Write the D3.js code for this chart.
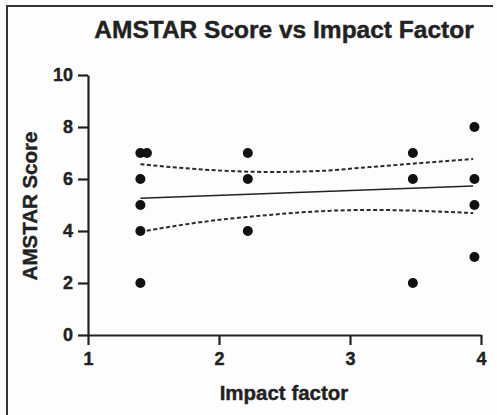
<!DOCTYPE html>
<html>
<head>
<meta charset="utf-8">
<script src="https://cdn.jsdelivr.net/npm/d3@7"></script>
<style>
  html, body { margin: 0; padding: 0; background: #fdfdfd; }
  svg { display: block; font-family: "Liberation Sans", Arial, sans-serif; }
</style>
</head>
<body>
<svg id="chart" width="497" height="415"></svg>
<script>
// Journal impact factor and AMSTAR quality score for each review
const impactFactor = [1.40, 1.40, 1.40, 1.40, 1.40, 1.45, 2.22, 2.22, 2.22, 3.48, 3.48, 3.48, 3.95, 3.95, 3.95, 3.95];
const amstarScore  = [7, 6, 5, 4, 2, 7, 7, 6, 4, 7, 6, 2, 8, 6, 5, 3];

// Linear fit and its 95% confidence band
const fitX   = [1.40, 3.94];
const fitY   = [5.26, 5.73];
const bandX  = [1.40, 1.89, 2.39, 2.77, 3.15, 3.94];
const bandHi = [6.57, 6.36, 6.27, 6.31, 6.46, 6.77];
const bandLo = [3.97, 4.36, 4.62, 4.76, 4.81, 4.69];

const xTicks = [1, 2, 3, 4];
const yTicks = [0, 2, 4, 6, 8, 10];

const svg = d3.select("#chart");
const ink = "#222";

// frame
svg.append("path")
  .attr("d", "M7,415 V6 H493")
  .attr("fill", "none").attr("stroke", "#333").attr("stroke-width", 2);

const x = d3.scaleLinear().domain([1, 4]).range([88, 481]);
const y = d3.scaleLinear().domain([0, 10]).range([335, 75]);

// bold labels get a hairline stroke for a heavier print look
function heavy(sel) {
  return sel.attr("fill", ink).attr("stroke", ink).attr("stroke-width", 0.4);
}

// title
heavy(svg.append("text")
  .attr("x", 284).attr("y", 38)
  .attr("text-anchor", "middle")
  .style("font-size", "24.5px").style("font-weight", "bold"))
  .text("AMSTAR Score vs Impact Factor");

// axes
const xAxis = svg.append("g")
  .attr("transform", `translate(0,${y(0)})`)
  .call(d3.axisBottom(x).tickValues(xTicks).tickFormat(d3.format("d")).tickSize(10).tickSizeOuter(0).tickPadding(7));
const yAxis = svg.append("g")
  .attr("transform", `translate(${x(1)},0)`)
  .call(d3.axisLeft(y).tickValues(yTicks).tickFormat(d3.format("d")).tickSize(10).tickSizeOuter(0).tickPadding(5));

[xAxis, yAxis].forEach(g => {
  g.attr("font-size", null).attr("font-family", null);
  g.select(".domain").attr("stroke", ink).attr("stroke-width", 2.2);
  g.selectAll(".tick line").attr("stroke", ink).attr("stroke-width", 2.2);
  heavy(g.selectAll(".tick text"))
    .style("font-size", "18px").style("font-weight", "bold")
    .style("font-family", "'Liberation Sans', Arial, sans-serif");
});

// axis titles
heavy(svg.append("text")
  .attr("x", 284).attr("y", 400)
  .attr("text-anchor", "middle")
  .style("font-size", "20.5px").style("font-weight", "bold"))
  .text("Impact factor");

heavy(svg.append("text")
  .attr("transform", "translate(37,206) rotate(-90)")
  .attr("text-anchor", "middle")
  .style("font-size", "20.5px").style("font-weight", "bold"))
  .text("AMSTAR Score");

// confidence band
const bandLine = d3.line().curve(d3.curveMonotoneX).x(d => x(d[0])).y(d => y(d[1]));
[bandHi, bandLo].forEach(vals => {
  svg.append("path")
    .datum(bandX.map((v, i) => [v, vals[i]]))
    .attr("d", bandLine)
    .attr("fill", "none").attr("stroke", "#2a2a2a")
    .attr("stroke-width", 2).attr("stroke-dasharray", "4,2.5");
});

// regression line
svg.append("path")
  .datum(fitX.map((v, i) => [v, fitY[i]]))
  .attr("d", d3.line().x(d => x(d[0])).y(d => y(d[1])))
  .attr("fill", "none").attr("stroke", "#222").attr("stroke-width", 1.6);

// points
svg.append("g").selectAll("circle")
  .data(impactFactor.map((v, i) => [v, amstarScore[i]]))
  .join("circle")
  .attr("cx", d => x(d[0])).attr("cy", d => y(d[1]))
  .attr("r", 5).attr("fill", "#111");
</script>
</body>
</html>
